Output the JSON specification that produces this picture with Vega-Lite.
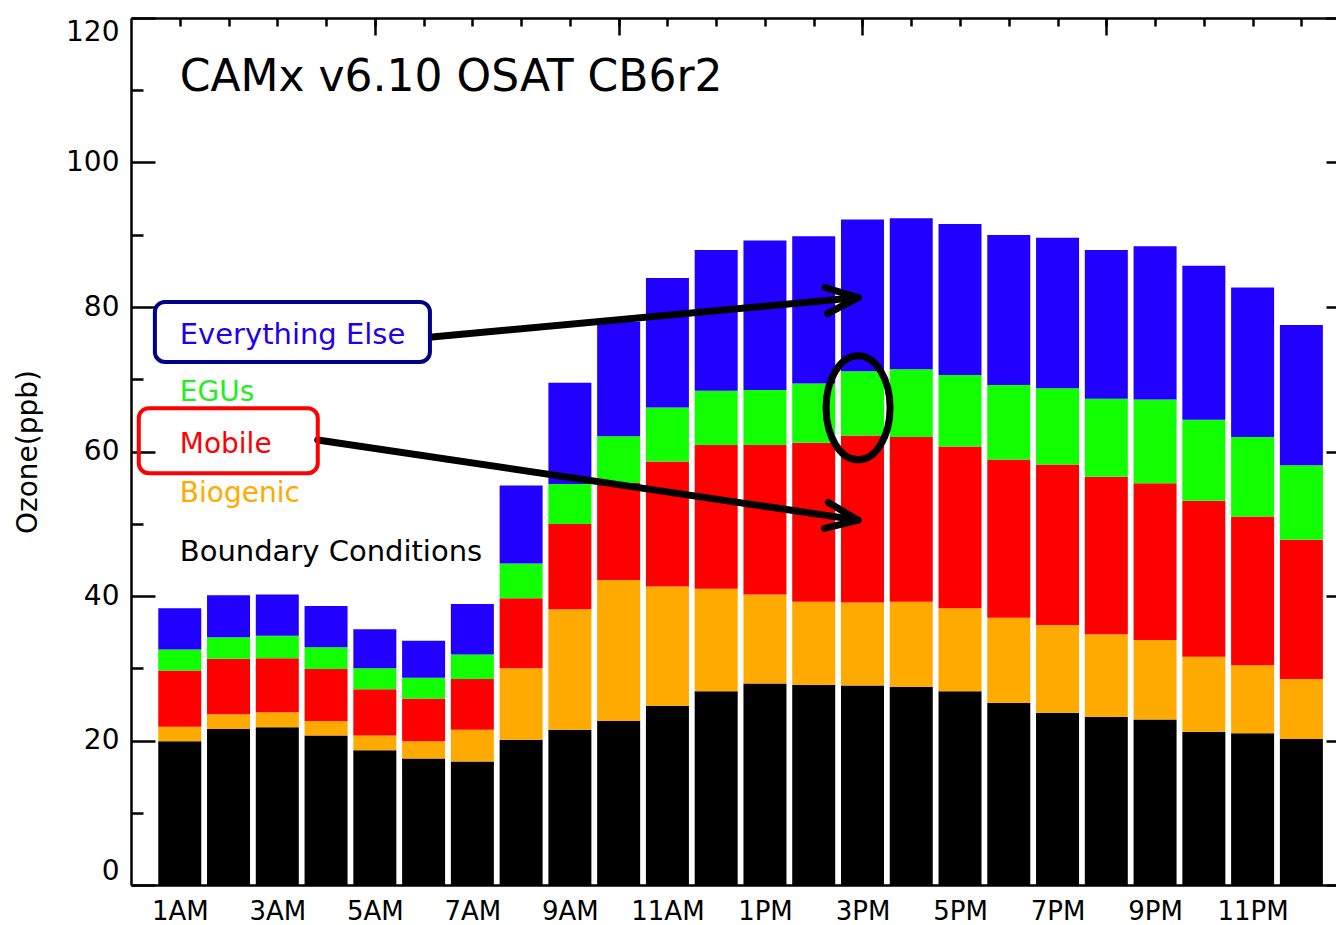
{
  "$schema": "https://vega.github.io/schema/vega-lite/v6.json",
  "width": 1205,
  "height": 867,
  "autosize": {"type": "none"},
  "padding": {"left": 131, "top": 18, "right": 0, "bottom": 40},
  "background": "white",
  "config": {
    "view": {"stroke": null},
    "axis": {"grid": false, "labelFont": "DejaVu Sans", "titleFont": "DejaVu Sans", "tickColor": "black", "domainColor": "black", "labelColor": "black", "titleColor": "black"},
    "text": {"font": "DejaVu Sans"}
  },
  "resolve": {"axis": {"x": "independent", "y": "independent"}},
  "layer": [
    {
      "data": {"values": [
        {"hour":1,"source":"Boundary Conditions","ozone":19.9},{"hour":1,"source":"Biogenic","ozone":2.0},{"hour":1,"source":"Mobile","ozone":7.8},{"hour":1,"source":"EGUs","ozone":2.9},{"hour":1,"source":"Everything Else","ozone":5.7},
        {"hour":2,"source":"Boundary Conditions","ozone":21.6},{"hour":2,"source":"Biogenic","ozone":2.05},{"hour":2,"source":"Mobile","ozone":7.65},{"hour":2,"source":"EGUs","ozone":3.0},{"hour":2,"source":"Everything Else","ozone":5.8},
        {"hour":3,"source":"Boundary Conditions","ozone":21.85},{"hour":3,"source":"Biogenic","ozone":2.05},{"hour":3,"source":"Mobile","ozone":7.5},{"hour":3,"source":"EGUs","ozone":3.1},{"hour":3,"source":"Everything Else","ozone":5.7},
        {"hour":4,"source":"Boundary Conditions","ozone":20.7},{"hour":4,"source":"Biogenic","ozone":2.0},{"hour":4,"source":"Mobile","ozone":7.2},{"hour":4,"source":"EGUs","ozone":3.0},{"hour":4,"source":"Everything Else","ozone":5.7},
        {"hour":5,"source":"Boundary Conditions","ozone":18.65},{"hour":5,"source":"Biogenic","ozone":2.05},{"hour":5,"source":"Mobile","ozone":6.4},{"hour":5,"source":"EGUs","ozone":2.9},{"hour":5,"source":"Everything Else","ozone":5.4},
        {"hour":6,"source":"Boundary Conditions","ozone":17.5},{"hour":6,"source":"Biogenic","ozone":2.4},{"hour":6,"source":"Mobile","ozone":5.9},{"hour":6,"source":"EGUs","ozone":2.9},{"hour":6,"source":"Everything Else","ozone":5.1},
        {"hour":7,"source":"Boundary Conditions","ozone":17.1},{"hour":7,"source":"Biogenic","ozone":4.4},{"hour":7,"source":"Mobile","ozone":7.0},{"hour":7,"source":"EGUs","ozone":3.4},{"hour":7,"source":"Everything Else","ozone":7.0},
        {"hour":8,"source":"Boundary Conditions","ozone":20.1},{"hour":8,"source":"Biogenic","ozone":9.9},{"hour":8,"source":"Mobile","ozone":9.7},{"hour":8,"source":"EGUs","ozone":4.8},{"hour":8,"source":"Everything Else","ozone":10.8},
        {"hour":9,"source":"Boundary Conditions","ozone":21.5},{"hour":9,"source":"Biogenic","ozone":16.65},{"hour":9,"source":"Mobile","ozone":11.8},{"hour":9,"source":"EGUs","ozone":5.55},{"hour":9,"source":"Everything Else","ozone":14.0},
        {"hour":10,"source":"Boundary Conditions","ozone":22.7},{"hour":10,"source":"Biogenic","ozone":19.5},{"hour":10,"source":"Mobile","ozone":13.45},{"hour":10,"source":"EGUs","ozone":6.45},{"hour":10,"source":"Everything Else","ozone":15.9},
        {"hour":11,"source":"Boundary Conditions","ozone":24.8},{"hour":11,"source":"Biogenic","ozone":16.5},{"hour":11,"source":"Mobile","ozone":17.3},{"hour":11,"source":"EGUs","ozone":7.5},{"hour":11,"source":"Everything Else","ozone":17.9},
        {"hour":12,"source":"Boundary Conditions","ozone":26.8},{"hour":12,"source":"Biogenic","ozone":14.2},{"hour":12,"source":"Mobile","ozone":19.9},{"hour":12,"source":"EGUs","ozone":7.5},{"hour":12,"source":"Everything Else","ozone":19.5},
        {"hour":13,"source":"Boundary Conditions","ozone":27.9},{"hour":13,"source":"Biogenic","ozone":12.3},{"hour":13,"source":"Mobile","ozone":20.7},{"hour":13,"source":"EGUs","ozone":7.6},{"hour":13,"source":"Everything Else","ozone":20.7},
        {"hour":14,"source":"Boundary Conditions","ozone":27.7},{"hour":14,"source":"Biogenic","ozone":11.5},{"hour":14,"source":"Mobile","ozone":22.0},{"hour":14,"source":"EGUs","ozone":8.2},{"hour":14,"source":"Everything Else","ozone":20.4},
        {"hour":15,"source":"Boundary Conditions","ozone":27.6},{"hour":15,"source":"Biogenic","ozone":11.5},{"hour":15,"source":"Mobile","ozone":23.1},{"hour":15,"source":"EGUs","ozone":8.9},{"hour":15,"source":"Everything Else","ozone":21.0},
        {"hour":16,"source":"Boundary Conditions","ozone":27.4},{"hour":16,"source":"Biogenic","ozone":11.8},{"hour":16,"source":"Mobile","ozone":22.8},{"hour":16,"source":"EGUs","ozone":9.4},{"hour":16,"source":"Everything Else","ozone":20.9},
        {"hour":17,"source":"Boundary Conditions","ozone":26.8},{"hour":17,"source":"Biogenic","ozone":11.5},{"hour":17,"source":"Mobile","ozone":22.4},{"hour":17,"source":"EGUs","ozone":9.9},{"hour":17,"source":"Everything Else","ozone":20.9},
        {"hour":18,"source":"Boundary Conditions","ozone":25.2},{"hour":18,"source":"Biogenic","ozone":11.8},{"hour":18,"source":"Mobile","ozone":21.9},{"hour":18,"source":"EGUs","ozone":10.3},{"hour":18,"source":"Everything Else","ozone":20.75},
        {"hour":19,"source":"Boundary Conditions","ozone":23.85},{"hour":19,"source":"Biogenic","ozone":12.15},{"hour":19,"source":"Mobile","ozone":22.2},{"hour":19,"source":"EGUs","ozone":10.55},{"hour":19,"source":"Everything Else","ozone":20.85},
        {"hour":20,"source":"Boundary Conditions","ozone":23.3},{"hour":20,"source":"Biogenic","ozone":11.4},{"hour":20,"source":"Mobile","ozone":21.8},{"hour":20,"source":"EGUs","ozone":10.8},{"hour":20,"source":"Everything Else","ozone":20.6},
        {"hour":21,"source":"Boundary Conditions","ozone":22.9},{"hour":21,"source":"Biogenic","ozone":11.0},{"hour":21,"source":"Mobile","ozone":21.7},{"hour":21,"source":"EGUs","ozone":11.6},{"hour":21,"source":"Everything Else","ozone":21.2},
        {"hour":22,"source":"Boundary Conditions","ozone":21.2},{"hour":22,"source":"Biogenic","ozone":10.4},{"hour":22,"source":"Mobile","ozone":21.6},{"hour":22,"source":"EGUs","ozone":11.2},{"hour":22,"source":"Everything Else","ozone":21.3},
        {"hour":23,"source":"Boundary Conditions","ozone":21.0},{"hour":23,"source":"Biogenic","ozone":9.4},{"hour":23,"source":"Mobile","ozone":20.6},{"hour":23,"source":"EGUs","ozone":11.0},{"hour":23,"source":"Everything Else","ozone":20.7},
        {"hour":24,"source":"Boundary Conditions","ozone":20.2},{"hour":24,"source":"Biogenic","ozone":8.3},{"hour":24,"source":"Mobile","ozone":19.3},{"hour":24,"source":"EGUs","ozone":10.3},{"hour":24,"source":"Everything Else","ozone":19.4}
      ]},
      "transform": [
        {"calculate": "indexof(['Boundary Conditions','Biogenic','Mobile','EGUs','Everything Else'], datum.source)", "as": "rank"}
      ],
      "mark": {"type": "bar", "width": 43},
      "encoding": {
        "x": {
          "field": "hour", "type": "quantitative",
          "scale": {"domain": [0, 24.71], "nice": false, "zero": false, "padding": 0},
          "axis": {
            "orient": "bottom",
            "values": [1, 3, 5, 7, 9, 11, 13, 15, 17, 19, 21, 23],
            "labelExpr": "datum.value < 12 ? datum.value + 'AM' : datum.value == 12 ? '12PM' : datum.value == 24 ? '12AM' : (datum.value - 12) + 'PM'",
            "ticks": false,
            "domain": true, "domainWidth": 2.5,
            "labelFontSize": 26, "labelPadding": 13,
            "labelOverlap": false, "labelFlush": false,
            "title": null
          }
        },
        "y": {
          "aggregate": "sum", "field": "ozone", "type": "quantitative", "stack": "zero",
          "scale": {"domain": [0, 120], "nice": false, "padding": 0},
          "axis": {
            "orient": "left",
            "values": [0, 20, 40, 60, 80, 100, 120],
            "tickSize": -24, "tickWidth": 2.5,
            "domain": true, "domainWidth": 2.5,
            "labelFontSize": 28, "labelPadding": 36, "labelFlush": true,
            "title": "Ozone(ppb)", "titleFontSize": 28, "titleFontWeight": "normal", "titlePadding": 23
          }
        },
        "color": {
          "field": "source", "type": "nominal",
          "scale": {
            "domain": ["Boundary Conditions", "Biogenic", "Mobile", "EGUs", "Everything Else"],
            "range": ["#000000", "#ffaa00", "#ff0000", "#11ff00", "#2200ff"]
          },
          "legend": null
        },
        "order": {"field": "rank", "type": "quantitative"}
      }
    },
    {
      "data": {"values": [{}]},
      "mark": {"type": "rule", "color": "black", "strokeWidth": 7, "strokeCap": "round"},
      "encoding": {
        "x": {"datum": 6.17, "type": "quantitative", "scale": {"domain": [0, 24.71], "nice": false, "zero": false, "padding": 0},
          "axis": {"orient": "top", "values": [1,2,3,4,5,6,7,8,9,10,11,12,13,14,15,16,17,18,19,20,21,22,23,24], "tickSize": -8, "tickWidth": 2.5, "labels": false, "domain": true, "domainWidth": 2.5, "title": null}},
        "y": {"datum": 75.85, "type": "quantitative", "scale": {"domain": [0, 120], "nice": false, "padding": 0},
          "axis": {"orient": "left", "values": [10, 30, 50, 70, 90, 110], "tickSize": -12, "tickWidth": 2.5, "labels": false, "domain": false, "title": null}},
        "x2": {"datum": 14.91},
        "y2": {"datum": 81.3}
      }
    },
    {
      "data": {"values": [{}]},
      "mark": {"type": "rule", "color": "black", "strokeWidth": 7, "strokeCap": "round"},
      "encoding": {
        "x": {"datum": 3.83, "type": "quantitative", "scale": {"domain": [0, 24.71], "nice": false, "zero": false, "padding": 0},
          "axis": {"orient": "top", "values": [5, 10, 15, 20], "tickSize": -17, "tickWidth": 2.5, "labels": false, "domain": false, "title": null}},
        "y": {"datum": 61.6, "type": "quantitative", "scale": {"domain": [0, 120], "nice": false, "padding": 0},
          "axis": {"orient": "right", "offset": 14, "values": [0, 20, 40, 60, 80, 100, 120], "tickSize": -24, "tickWidth": 2.5, "labels": false, "domain": false, "title": null}},
        "x2": {"datum": 14.91},
        "y2": {"datum": 50.5}
      }
    },
    {
      "data": {"values": [{}]},
      "mark": {"type": "point", "shape": "M -1 -0.41 L 0 0 L -1 0.41", "size": 4096, "filled": false, "color": "black", "strokeWidth": 7, "strokeCap": "round", "strokeJoin": "round", "angle": 354.7, "opacity": 1},
      "encoding": {
        "x": {"datum": 14.91, "type": "quantitative", "axis": null},
        "y": {"datum": 81.3, "type": "quantitative", "axis": null}
      }
    },
    {
      "data": {"values": [{}]},
      "mark": {"type": "point", "shape": "M -1 -0.41 L 0 0 L -1 0.41", "size": 4096, "filled": false, "color": "black", "strokeWidth": 7, "strokeCap": "round", "strokeJoin": "round", "angle": 8.4, "opacity": 1},
      "encoding": {
        "x": {"datum": 14.91, "type": "quantitative", "axis": null},
        "y": {"datum": 50.5, "type": "quantitative", "axis": null}
      }
    },
    {
      "data": {"values": [{}]},
      "mark": {"type": "point", "shape": "M 0.615 0 C 0.615 0.5523 0.3397 1 0 1 C -0.3397 1 -0.615 0.5523 -0.615 0 C -0.615 -0.5523 -0.3397 -1 0 -1 C 0.3397 -1 0.615 -0.5523 0.615 0 Z", "size": 10816, "filled": false, "color": "black", "strokeWidth": 7, "opacity": 1},
      "encoding": {
        "x": {"datum": 14.91, "type": "quantitative", "axis": null},
        "y": {"datum": 66.05, "type": "quantitative", "axis": null}
      }
    },
    {
      "data": {"values": [{}]},
      "mark": {"type": "rect", "fill": "white", "fillOpacity": 0, "stroke": "#000088", "strokeWidth": 4, "cornerRadius": 10},
      "encoding": {
        "x": {"datum": 0.49, "type": "quantitative", "axis": null},
        "x2": {"datum": 6.13},
        "y": {"datum": 80.7, "type": "quantitative", "axis": null},
        "y2": {"datum": 72.4}
      }
    },
    {
      "data": {"values": [{}]},
      "mark": {"type": "rect", "fill": "white", "fillOpacity": 0, "stroke": "#ff0000", "strokeWidth": 4, "cornerRadius": 10},
      "encoding": {
        "x": {"datum": 0.16, "type": "quantitative", "axis": null},
        "x2": {"datum": 3.83},
        "y": {"datum": 66.0, "type": "quantitative", "axis": null},
        "y2": {"datum": 57.0}
      }
    },
    {
      "data": {"values": [{}]},
      "mark": {"type": "text", "text": "CAMx v6.10 OSAT CB6r2", "fontSize": 44, "align": "left", "baseline": "alphabetic", "color": "black"},
      "encoding": {
        "x": {"datum": 1.0, "type": "quantitative", "axis": null},
        "y": {"datum": 109.9, "type": "quantitative", "axis": null}
      }
    },
    {
      "data": {"values": [{}]},
      "mark": {"type": "text", "text": "Everything Else", "fontSize": 29, "align": "left", "baseline": "alphabetic", "color": "#2200ee"},
      "encoding": {
        "x": {"datum": 1.0, "type": "quantitative", "axis": null},
        "y": {"datum": 74.9, "type": "quantitative", "axis": null}
      }
    },
    {
      "data": {"values": [{}]},
      "mark": {"type": "text", "text": "EGUs", "fontSize": 28, "align": "left", "baseline": "alphabetic", "color": "#22ee22"},
      "encoding": {
        "x": {"datum": 1.0, "type": "quantitative", "axis": null},
        "y": {"datum": 67.0, "type": "quantitative", "axis": null}
      }
    },
    {
      "data": {"values": [{}]},
      "mark": {"type": "text", "text": "Mobile", "fontSize": 28, "align": "left", "baseline": "alphabetic", "color": "#ff0000"},
      "encoding": {
        "x": {"datum": 1.0, "type": "quantitative", "axis": null},
        "y": {"datum": 59.8, "type": "quantitative", "axis": null}
      }
    },
    {
      "data": {"values": [{}]},
      "mark": {"type": "text", "text": "Biogenic", "fontSize": 28, "align": "left", "baseline": "alphabetic", "color": "#ffaa00"},
      "encoding": {
        "x": {"datum": 1.0, "type": "quantitative", "axis": null},
        "y": {"datum": 53.0, "type": "quantitative", "axis": null}
      }
    },
    {
      "data": {"values": [{}]},
      "mark": {"type": "text", "text": "Boundary Conditions", "fontSize": 29, "align": "left", "baseline": "alphabetic", "color": "#000000"},
      "encoding": {
        "x": {"datum": 1.0, "type": "quantitative", "axis": null},
        "y": {"datum": 44.9, "type": "quantitative", "axis": null}
      }
    }
  ]
}
